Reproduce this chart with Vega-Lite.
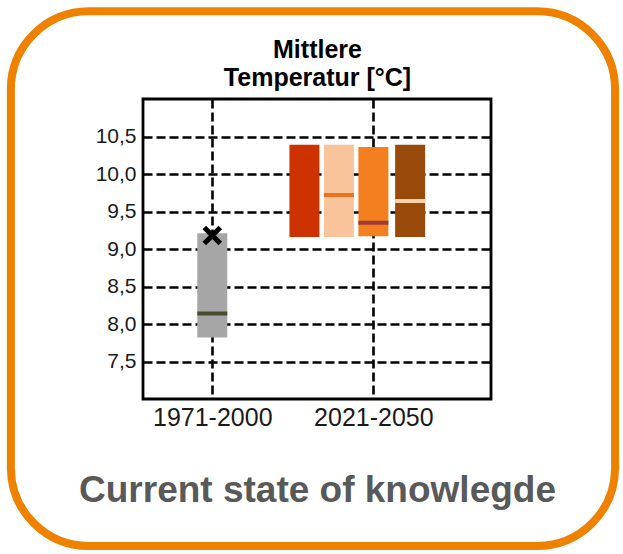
{
  "$schema": "https://vega.github.io/schema/vega-lite/v6.json",
  "width": 348,
  "height": 300,
  "padding": {"left": 6, "top": 7, "right": 5, "bottom": 4},
  "background": "white",
  "config": {
    "font": "Liberation Sans",
    "view": {"stroke": "black", "strokeWidth": 2.8},
    "axis": {
      "gridColor": "black",
      "gridDash": [9, 4],
      "gridWidth": 2.6,
      "gridOpacity": 1,
      "domain": false,
      "ticks": false,
      "labelFont": "Liberation Sans",
      "labelColor": "#1a1a1a"
    }
  },
  "data": {
    "values": [
      {"series": "1971-2000", "period": "1971-2000", "pos": 1985.5, "low": 7.82, "high": 9.21, "median": 8.14, "obs": 9.18},
      {"series": "Modell A", "period": "2021-2050", "pos": 2014.1, "low": 9.16, "high": 10.39, "median": null, "obs": null},
      {"series": "Modell B", "period": "2021-2050", "pos": 2024.8, "low": 9.16, "high": 10.39, "median": 9.72, "obs": null},
      {"series": "Modell C", "period": "2021-2050", "pos": 2035.5, "low": 9.17, "high": 10.36, "median": 9.35, "obs": null},
      {"series": "Modell D", "period": "2021-2050", "pos": 2046.9, "low": 9.16, "high": 10.39, "median": 9.64, "obs": null}
    ]
  },
  "layer": [
    {
      "mark": {"type": "bar", "size": 30},
      "encoding": {
        "x": {
          "field": "pos",
          "type": "quantitative",
          "scale": {"domain": [1964, 2072], "nice": false, "zero": false, "padding": 0},
          "axis": {
            "values": [1985.5, 2035.5],
            "labelExpr": "datum.value < 2000 ? '1971-2000' : '2021-2050'",
            "labelFontSize": 25,
            "labelPadding": 6,
            "labelFlush": false,
            "grid": true,
            "title": "Current state of knowlegde",
            "titleFontSize": 37,
            "titleFont": "Liberation Sans",
            "titleFontWeight": "bold",
            "titleColor": "#595959",
            "titlePadding": 42
          }
        },
        "y": {
          "field": "low",
          "type": "quantitative",
          "scale": {"domain": [7, 11], "nice": false, "zero": false, "padding": 0},
          "axis": {
            "values": [7.5, 8, 8.5, 9, 9.5, 10, 10.5],
            "labelExpr": "replace(format(datum.value, '.1f'), '.', ',')",
            "labelFontSize": 21,
            "labelPadding": 7,
            "grid": true,
            "title": null
          }
        },
        "y2": {"field": "high"},
        "color": {
          "field": "series",
          "type": "nominal",
          "scale": {
            "domain": ["1971-2000", "Modell A", "Modell B", "Modell C", "Modell D"],
            "range": ["#a6a6a6", "#cc3300", "#fac49b", "#f37f1f", "#994a0b"]
          },
          "legend": null
        }
      }
    },
    {
      "transform": [{"filter": "isValid(datum.median)"}],
      "mark": {"type": "tick", "orient": "horizontal", "size": 30, "thickness": 4, "opacity": 1},
      "encoding": {
        "x": {"field": "pos", "type": "quantitative", "axis": null},
        "y": {"field": "median", "type": "quantitative", "axis": null},
        "color": {
          "field": "series",
          "type": "nominal",
          "scale": {
            "domain": ["1971-2000", "Modell A", "Modell B", "Modell C", "Modell D"],
            "range": ["#4b4b31", "#cc3300", "#e8731c", "#9e3a3b", "#fcd0a8"]
          },
          "legend": null
        }
      }
    },
    {
      "transform": [{"filter": "isValid(datum.obs)"}],
      "mark": {
        "type": "point",
        "shape": "M-1,-1L1,1M1,-1L-1,1",
        "size": 256,
        "filled": false,
        "stroke": "black",
        "strokeWidth": 5,
        "opacity": 1
      },
      "encoding": {
        "x": {
          "field": "pos",
          "type": "quantitative",
          "axis": {
            "orient": "top",
            "labels": false,
            "grid": false,
            "title": ["Mittlere", "Temperatur [°C]"],
            "titleFontSize": 25,
            "titleFont": "Liberation Sans",
            "titleFontWeight": "bold",
            "titleColor": "black",
            "titleLineHeight": 28,
            "titlePadding": 9
          }
        },
        "y": {"field": "obs", "type": "quantitative", "axis": null}
      }
    },
    {
      "data": {"values": [{}]},
      "mark": {
        "type": "rect",
        "fill": null,
        "stroke": "#ee8100",
        "strokeWidth": 8,
        "cornerRadius": 78,
        "clip": false
      },
      "encoding": {
        "x": {"datum": 1923.0, "type": "quantitative", "axis": null},
        "x2": {"datum": 2110.5},
        "y": {"datum": 12.17, "type": "quantitative", "axis": null},
        "y2": {"datum": 5.04}
      }
    }
  ],
  "resolve": {"scale": {"color": "independent"}, "axis": {"x": "independent", "y": "independent"}}
}
